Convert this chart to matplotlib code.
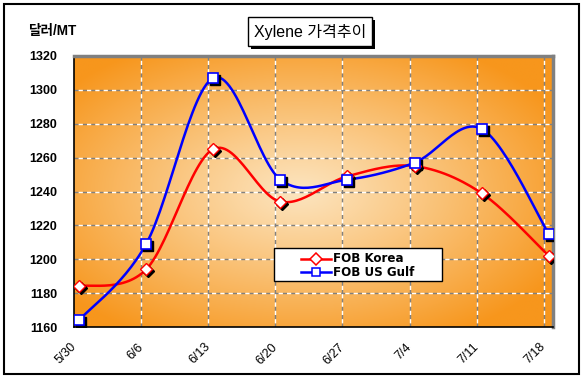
import numpy as np
import matplotlib
matplotlib.use("Agg")
import matplotlib.pyplot as plt
from matplotlib.patches import Rectangle
import matplotlib.transforms as mtransforms
from matplotlib.lines import Line2D

dates = ["5/30", "6/6", "6/13", "6/20", "6/27", "7/4", "7/11", "7/18"]
fob_korea = [1184, 1194, 1265, 1234, 1249, 1255, 1239, 1202]
fob_usgulf = [1164, 1209, 1307, 1247, 1247, 1257, 1277, 1215]
yticks = [1160, 1180, 1200, 1220, 1240, 1260, 1280, 1300, 1320]
series_names = ['FOB Korea', 'FOB US Gulf']

plt.rcParams['font.family'] = ['Liberation Sans', 'Noto Sans CJK KR', 'DejaVu Sans']

W, H = 585, 383
fig = plt.figure(figsize=(W / 100, H / 100), dpi=100)
fig.patch.set_facecolor('white')

L, R, T, B = 74, 553, 56, 327
ax = fig.add_axes([L / W, 1 - B / H, (R - L) / W, (B - T) / H])

offset = 0.075
xs = np.arange(len(dates)) + offset
xmax = (R - L) / 67.1

ax.set_xlim(0, xmax)
ax.set_ylim(1160, 1320)

# gradient background
gx = np.linspace(0, 1, 300)
gy = np.linspace(0, 1, 200)
GX, GY = np.meshgrid(gx, gy)
t = np.sqrt(((GX - 0.47) / 0.62) ** 2 + ((GY - 0.5) / 0.62) ** 2)
t = np.clip(t, 0, 1) ** 1.1
c_center = np.array([252, 228, 190]) / 255
c_edge = np.array([247, 150, 28]) / 255
img = c_center[None, None, :] * (1 - t[..., None]) + c_edge[None, None, :] * t[..., None]
ax.imshow(img, extent=[0, xmax, 1160, 1320], aspect='auto', origin='lower', zorder=0)

# gridlines
for y in yticks[1:-1]:
    ax.axhline(y, color='#808080', lw=1, ls=(0, (3, 3)), zorder=1)
    ax.axhline(y, color='white', lw=1, ls=(3, (3, 3)), zorder=1)
for x in range(1, 8):
    ax.axvline(x, color='#808080', lw=1, ls=(0, (3, 3)), zorder=1)
    ax.axvline(x, color='white', lw=1, ls=(3, (3, 3)), zorder=1)


def smooth(x, y, n=30):
    x = np.asarray(x, float)
    y = np.asarray(y, float)
    P = np.column_stack([x, y])
    out = []
    for i in range(len(P) - 1):
        p0 = P[i - 1] if i > 0 else P[i]
        p1 = P[i]
        p2 = P[i + 1]
        p3 = P[i + 2] if i + 2 < len(P) else P[i + 1]
        c1 = p1 + (p2 - p0) / 6
        c2 = p2 - (p3 - p1) / 6
        tt = np.linspace(0, 1, n)[:, None]
        seg = ((1 - tt) ** 3) * p1 + 3 * ((1 - tt) ** 2) * tt * c1 + 3 * (1 - tt) * tt ** 2 * c2 + tt ** 3 * p2
        out.append(seg if i == 0 else seg[1:])
    s = np.vstack(out)
    return s[:, 0], s[:, 1]


kx, ky = smooth(xs, fob_korea)
ux, uy = smooth(xs, fob_usgulf)
ax.plot(kx, ky, color='#FF0000', lw=1.8, zorder=3, solid_capstyle='round')
ax.plot(ux, uy, color='#0000FF', lw=1.8, zorder=3, solid_capstyle='round')

shadow = mtransforms.offset_copy(ax.transData, fig=fig, x=2, y=-2, units='dots')
ax.plot(xs, fob_korea, 'D', ms=6.5, color='black', transform=shadow, zorder=4)
ax.plot(xs, fob_usgulf, 's', ms=6.5, color='black', transform=shadow, zorder=4)
ax.plot(xs, fob_korea, 'D', ms=6.5, mfc='white', mec='#FF0000', mew=1, ls='none', zorder=5)
ax.plot(xs, fob_usgulf, 's', ms=6.5, mfc='white', mec='#0000FF', mew=1.2, ls='none', zorder=5)

ax.set_yticks(yticks)
ax.set_yticklabels([str(v) for v in yticks], fontsize=9, fontweight='bold')
ax.tick_params(axis='y', length=0, pad=12)
ax.set_xticks(range(len(dates)))
ax.set_xticklabels(dates, rotation=45, ha='right', va='top', rotation_mode='anchor',
                   fontsize=9)
ax.tick_params(axis='x', length=0, pad=10)
shift = mtransforms.ScaledTranslation(-4 / 100, 0, fig.dpi_scale_trans)
for lab in ax.get_xticklabels():
    lab.set_transform(lab.get_transform() + shift)

for s in ['left', 'bottom']:
    ax.spines[s].set_color('black')
    ax.spines[s].set_linewidth(1.2)
for s in ['top', 'right']:
    ax.spines[s].set_color('#808080')
    ax.spines[s].set_linewidth(2.5)


# legend (drawn in figure pixel coords)
def fx(px):
    return px / W


def fy(py):
    return 1 - py / H


fig.patches.append(Rectangle((fx(274), fy(281)), 168 / W, 33 / H, transform=fig.transFigure,
                             facecolor='white', edgecolor='black', lw=1, zorder=10))
leg_rows = [(258.5, '#FF0000', 'D'), (272, '#0000FF', 's')]
for (yy, col, mk), name in zip(leg_rows, series_names):
    fig.add_artist(Line2D([fx(301), fx(331)], [fy(yy), fy(yy)], color=col, lw=1.8,
                          transform=fig.transFigure, zorder=11))
    fig.add_artist(Line2D([fx(316)], [fy(yy)], marker=mk, ms=6, mfc='white', mec=col, mew=1.1,
                          ls='none', transform=fig.transFigure, zorder=12))
    fig.text(fx(333), fy(yy), name, ha='left', va='center', fontsize=8.6, fontweight='bold',
             family=['DejaVu Sans'], zorder=12)

# title box
fig.patches.append(Rectangle(((248 + 3) / W, 1 - (46 + 3) / H), 124 / W, 29 / H,
                             transform=fig.transFigure, facecolor='black', edgecolor='none'))
fig.patches.append(Rectangle((248 / W, 1 - 46 / H), 124 / W, 29 / H,
                             transform=fig.transFigure, facecolor='white', edgecolor='black', lw=1))
fig.text(310 / W, 1 - 31.5 / H, 'Xylene 가격추이', ha='center', va='center', fontsize=11.5)

fig.text(28 / W, 1 - 31 / H, '달러/MT', ha='left', va='center', fontsize=9.8, fontweight='bold')

# outer border
fig.patches.append(Rectangle((4 / W, 1 - 374 / H), 575 / W, 370 / H,
                             transform=fig.transFigure, facecolor='none', edgecolor='black', lw=1.5))

fig.savefig('out.png', dpi=100)
